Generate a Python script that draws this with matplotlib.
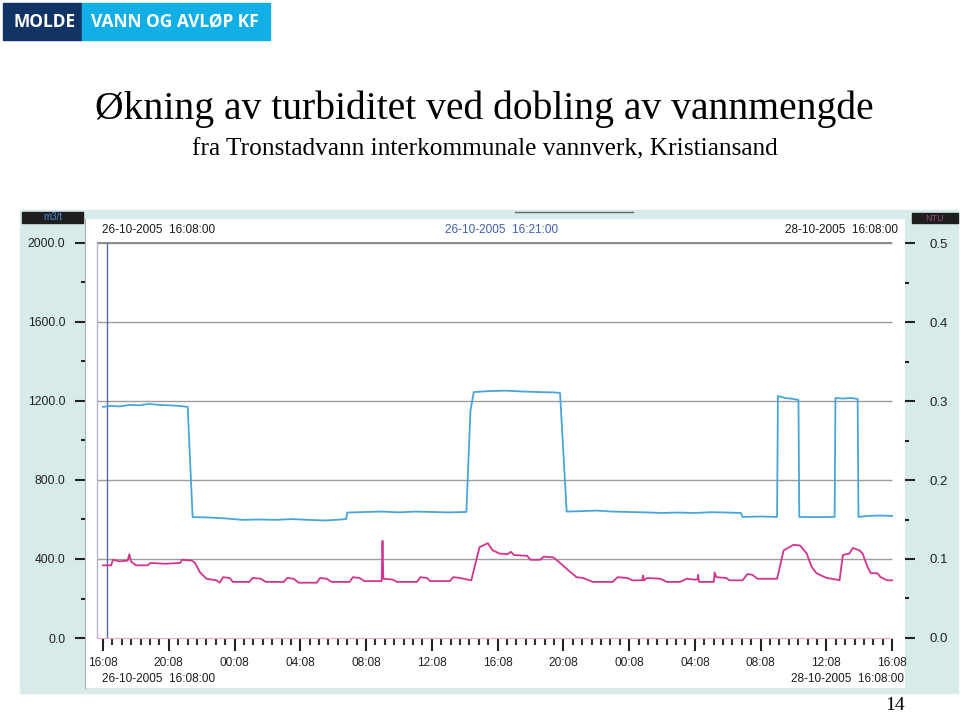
import matplotlib.pyplot as plt
from matplotlib.patches import Rectangle
from matplotlib.lines import Line2D
from matplotlib.ticker import FixedLocator

W, H = 960, 713

# hours after 26-10-2005 16:08
flow_hours = [0.0, 0.5, 1.0, 1.6, 2.2, 2.8, 3.4, 4.0, 4.6, 5.15, 5.45, 5.6, 6.5, 7.5,
              8.5, 9.5, 10.5, 11.5, 12.5, 13.5, 14.5, 14.8, 14.85, 16.0, 17.0, 18.0,
              19.0, 20.0, 21.0, 22.1, 22.35, 22.55, 23.5, 24.5, 25.5, 26.5, 27.5, 27.8,
              28.2, 29.0, 30.0, 31.0, 32.0, 33.0, 34.0, 35.0, 36.0, 37.0, 38.0, 38.8,
              38.9, 40.0, 41.0, 41.05, 41.5, 42.0, 42.3, 42.35, 43.5, 44.5, 44.55, 45.0,
              45.5, 45.9, 45.95, 46.5, 47.2, 48.0]
flow_m3t = [1170, 1175, 1172, 1180, 1178, 1185, 1180, 1178, 1175, 1170, 612, 612, 610, 605,
            598, 600, 598, 602, 598, 595, 600, 603, 635, 638, 640, 636,
            640, 638, 636, 638, 1150, 1245, 1250, 1252, 1248, 1245, 1243, 1240,
            640, 642, 645, 640, 638, 636, 633, 635, 633, 637, 635, 633,
            613, 615, 613, 1225, 1215, 1210, 1205, 613, 612, 613, 1215, 1212,
            1215, 1210, 613, 618, 620, 618]

turb_hours = [0.0, 0.5, 0.6, 1.0, 1.5, 1.6, 1.7, 2.0, 2.7, 2.9, 3.8, 4.7, 4.8, 5.4, 5.6,
              5.9, 6.3, 6.9, 7.1, 7.3, 7.7, 7.9, 8.9, 9.1, 9.6, 9.9, 11.0, 11.2, 11.6,
              11.9, 13.0, 13.2, 13.6, 13.9, 15.0, 15.2, 15.6, 15.9, 16.95, 17.0, 17.05,
              17.6, 17.9, 19.1, 19.3, 19.7, 19.9, 21.1, 21.3, 21.7, 22.4, 22.9, 23.4,
              23.7, 24.1, 24.6, 24.8, 25.0, 25.8, 26.0, 26.6, 26.8, 27.4, 27.8, 28.4,
              28.8, 29.2, 29.8, 31.0, 31.3, 31.9, 32.2, 32.8, 32.85, 32.9, 33.1, 33.9,
              34.3, 35.1, 35.5, 35.9, 36.15, 36.2, 36.25, 36.9, 37.15, 37.2, 37.3, 37.9,
              38.1, 38.9, 39.2, 39.5, 39.8, 41.0, 41.4, 42.0, 42.4, 42.8, 43.1, 43.4,
              44.0, 44.6, 44.8, 45.0, 45.4, 45.6, 46.0, 46.2, 46.5, 46.7, 47.1, 47.3,
              47.7, 48.0]
turb_ntu = [0.092, 0.092, 0.099, 0.097, 0.098, 0.106, 0.097, 0.092, 0.092, 0.095, 0.094,
            0.095, 0.099, 0.098, 0.095, 0.083, 0.075, 0.073, 0.070, 0.077, 0.076, 0.071,
            0.071, 0.076, 0.075, 0.071, 0.071, 0.076, 0.075, 0.070, 0.070, 0.076, 0.075,
            0.071, 0.071, 0.077, 0.076, 0.072, 0.072, 0.123, 0.075, 0.074, 0.071, 0.071,
            0.077, 0.076, 0.072, 0.072, 0.077, 0.076, 0.073, 0.115, 0.120, 0.111, 0.107,
            0.106, 0.109, 0.105, 0.104, 0.099, 0.099, 0.103, 0.102, 0.095, 0.084, 0.077,
            0.076, 0.071, 0.071, 0.077, 0.076, 0.073, 0.073, 0.079, 0.073, 0.076, 0.075,
            0.071, 0.071, 0.075, 0.074, 0.074, 0.080, 0.071, 0.071, 0.071, 0.083, 0.077,
            0.076, 0.073, 0.073, 0.081, 0.080, 0.075, 0.075, 0.111, 0.118, 0.117, 0.107,
            0.090, 0.082, 0.076, 0.074, 0.073, 0.105, 0.107, 0.114, 0.111, 0.107, 0.090,
            0.082, 0.082, 0.077, 0.073, 0.073]

flow_ticks = [0, 400, 800, 1200, 1600, 2000]
flow_minor = [200, 600, 1000, 1400, 1800]
flow_labels = ['0.0', '400.0', '800.0', '1200.0', '1600.0', '2000.0']
ntu_ticks = [0.0, 0.1, 0.2, 0.3, 0.4, 0.5]
ntu_minor = [0.05, 0.15, 0.25, 0.35, 0.45]
ntu_labels = ['0.0', '0.1', '0.2', '0.3', '0.4', '0.5']
hour_ticks = list(range(0, 49, 4))
hour_minor = [i * 4 / 7 for i in range(85) if i % 7]
hour_labels = ['16:08', '20:08', '00:08', '04:08', '08:08', '12:08',
               '16:08', '20:08', '00:08', '04:08', '08:08', '12:08', '16:08']
cursor_hour = 13 / 60  # 16:21

plt.rcParams['font.family'] = ['Liberation Sans', 'DejaVu Sans']

teal = '#d7ecea'
blue = '#46a6dc'
magenta = '#d2358e'
grid = '#9c9c9c'
ink = '#222222'


def box(x0, y0, x1, y1):
    return [x0 / W, 1 - y1 / H, (x1 - x0) / W, (y1 - y0) / H]


def fx(x):
    return x / W


def fy(y):
    return 1 - y / H


def rect(x0, y0, x1, y1, color, z):
    fig.patches.append(Rectangle((fx(x0), fy(y1)), (x1 - x0) / W, (y1 - y0) / H,
                                 transform=fig.transFigure, color=color, zorder=z))


fig = plt.figure(figsize=(W / 100, H / 100), dpi=100)

# logo
rect(3, 3, 82, 40, '#123465', -5)
rect(82, 3, 270, 40, '#12afe6', -5)
fig.text(fx(45), fy(22), 'MOLDE', color='white', fontsize=12.5, fontweight='bold',
         family='Open Sans', ha='center', va='center')
fig.text(fx(175), fy(22), 'VANN OG AVLØP KF', color='white', fontsize=12.5,
         fontweight='bold', family='Open Sans', ha='center', va='center')

# titles
fig.text(fx(484), fy(109), 'Økning av turbiditet ved dobling av vannmengde',
         family='Liberation Serif', fontsize=28.5, ha='center', va='center')
fig.text(fx(485), fy(149), 'fra Tronstadvann interkommunale vannverk, Kristiansand',
         family='Liberation Serif', fontsize=18.3, ha='center', va='center')
fig.text(fx(895), fy(706), '14', family='Liberation Serif', fontsize=14,
         ha='center', va='center')

# screenshot frame
rect(20, 210, 958, 693, teal, -5)
rect(22, 212, 83, 223, '#1e1e1e', -4)
rect(912, 213, 958, 223, '#1e1e1e', -4)
fig.text(fx(53), fy(217.5), 'm3/t', color='#4f86d6', fontsize=7, ha='center', va='center')
fig.text(fx(935), fy(218), 'NTU', color='#9c4a78', fontsize=6.5, ha='center', va='center')
fig.lines.append(Line2D([fx(515), fx(633)], [fy(212), fy(212)], transform=fig.transFigure,
                        color='#666666', lw=1, zorder=-3))

ax = fig.add_axes(box(85, 219, 905, 688))
ax.set_facecolor('white')
ax.set_xlim(-1.095, 48.78)
ax.set_ylim(-253, 2121)
ax2 = ax.twinx()
ax2.set_ylim(-0.0633, 0.5304)

for s in ['top', 'right']:
    ax.spines[s].set_visible(False)
for s in ['top', 'right', 'left', 'bottom']:
    ax2.spines[s].set_visible(False)
ax.spines['left'].set_color('#a8b4b4')
ax.spines['bottom'].set_position(('data', 0))
ax.spines['bottom'].set_color('#f0a8c4')
ax.spines['bottom'].set_bounds(-0.365, 48)

# grid and frame lines
ax.hlines(flow_ticks[1:], -0.365, 48, color=grid, lw=1, zorder=1)
ax.hlines([2000], -0.365, 48, color='#8c8c8c', lw=1.4, zorder=1)
ax.vlines([-0.365], 0, 2000, color='#b4b4cc', lw=1, zorder=1)
ax.vlines([cursor_hour], 0, 2000, color='#5566b8', lw=1, zorder=1)

ax.plot(flow_hours, flow_m3t, color=blue, lw=1.3, zorder=3)
ax2.plot(turb_hours, turb_ntu, color=magenta, lw=1.3, zorder=3)

ax.set_yticks(flow_ticks)
ax.set_yticklabels(flow_labels)
ax.yaxis.set_minor_locator(FixedLocator(flow_minor))
ax.tick_params(axis='y', which='major', length=7, width=1.5, pad=7, labelsize=8.8,
               colors=ink)
ax.tick_params(axis='y', which='minor', length=3, width=1.5, colors=ink)

ax2.set_yticks(ntu_ticks)
ax2.set_yticklabels(ntu_labels)
ax2.yaxis.set_minor_locator(FixedLocator(ntu_minor))
ax2.tick_params(axis='y', which='major', length=7, width=1.5, pad=11, labelsize=9.5,
                colors=ink, direction='out')
ax2.tick_params(axis='y', which='minor', length=3, width=1.5, colors=ink)

ax.set_xticks(hour_ticks)
ax.set_xticklabels(hour_labels)
ax.xaxis.set_minor_locator(FixedLocator(hour_minor))
ax.tick_params(axis='x', which='major', length=9, width=1.5, pad=5, labelsize=8.6,
               colors=ink)
ax.tick_params(axis='x', which='minor', length=5, width=1.5, color='#333333')

# header and footer stamps
fig.text(fx(102), fy(230), '26-10-2005  16:08:00', fontsize=8.5, ha='left', va='center',
         color='#1a1a1a')
fig.text(fx(445), fy(230), '26-10-2005  16:21:00', fontsize=8.5, ha='left', va='center',
         color='#3f5fb0')
fig.text(fx(898), fy(230), '28-10-2005  16:08:00', fontsize=8.5, ha='right', va='center',
         color='#1a1a1a')
fig.text(fx(102), fy(679), '26-10-2005  16:08:00', fontsize=8.5, ha='left', va='center',
         color='#1a1a1a')
fig.text(fx(904), fy(679), '28-10-2005  16:08:00', fontsize=8.5, ha='right', va='center',
         color='#1a1a1a')

fig.savefig('out.png', dpi=100)
